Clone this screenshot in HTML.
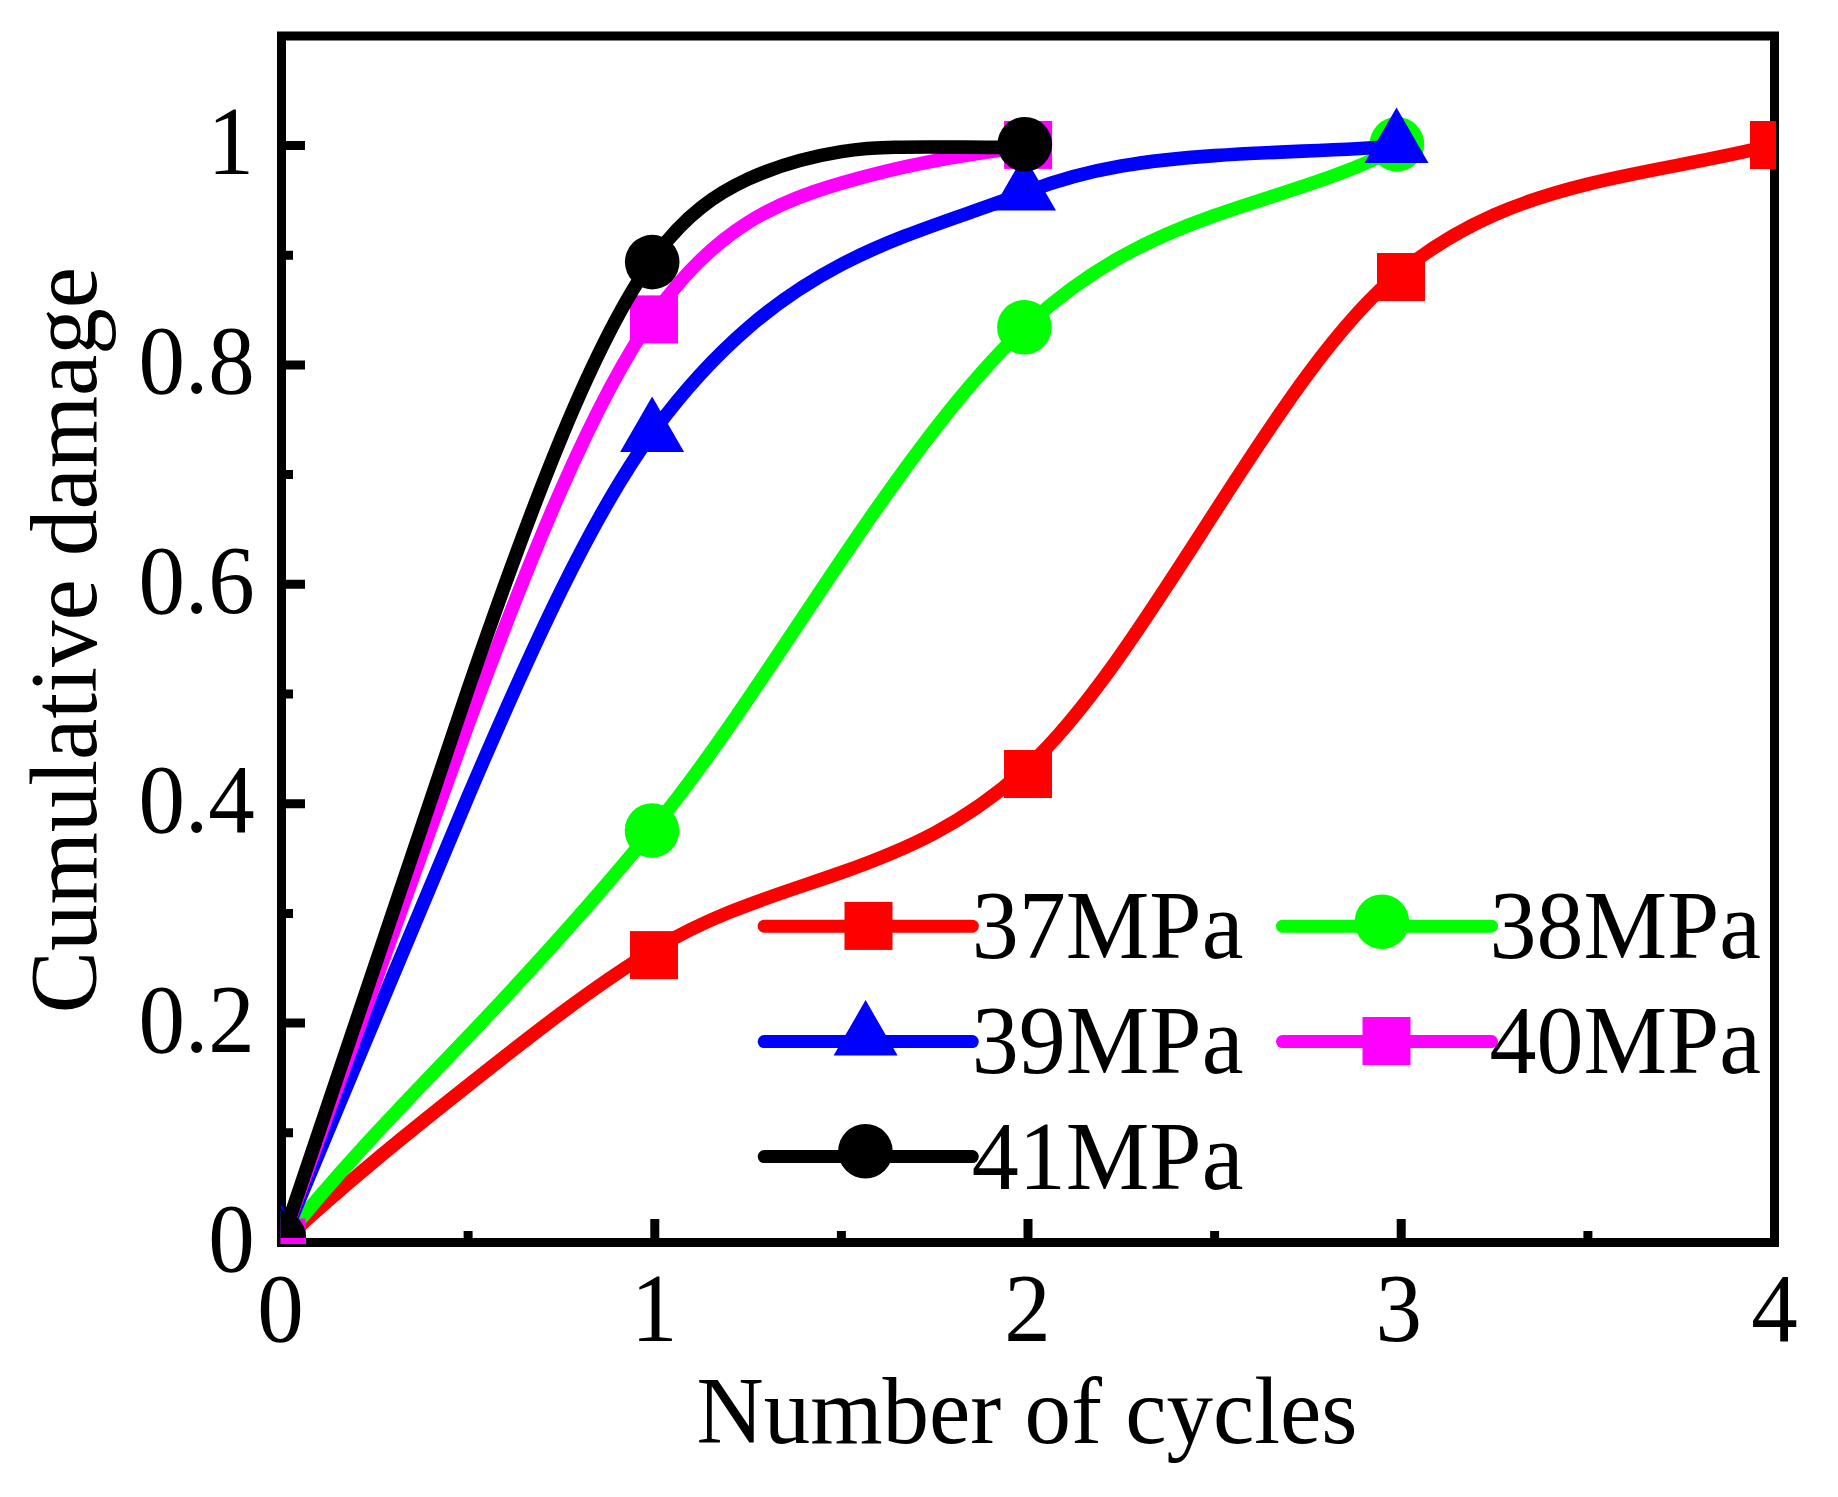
<!DOCTYPE html><html><head><meta charset="utf-8"><title>Cumulative damage</title><style>html,body{margin:0;padding:0;background:#fff}svg{display:block}text{font-family:"Liberation Serif","Times New Roman",serif;font-size:93px;fill:#000}</style></head><body>
<svg width="1838" height="1497" viewBox="0 0 1838 1497">
<defs><clipPath id="cp"><rect x="280.8" y="31" width="1495.2" height="1213"/></clipPath><clipPath id="cpb"><rect x="280.8" y="31" width="1495.2" height="1207"/></clipPath></defs>
<rect x="0" y="0" width="1838" height="1497" fill="#fff"/>
<rect x="281.5" y="36" width="1493" height="1206.5" fill="none" stroke="#000" stroke-width="9"/>
<path d="M281.5 1242.5H305M281.5 1132.8H293M281.5 1023.1H305M281.5 913.4H293M281.5 803.7H305M281.5 694.0H293M281.5 584.3H305M281.5 474.6H293M281.5 364.9H305M281.5 255.2H293M281.5 145.5H305M281.5 1242.5V1219M468.1 1242.5V1231M654.8 1242.5V1219M841.4 1242.5V1231M1028.0 1242.5V1219M1214.6 1242.5V1231M1401.2 1242.5V1219M1587.9 1242.5V1231M1774.5 1242.5V1219" stroke="#000" stroke-width="9" fill="none"/>
<g clip-path="url(#cp)">
<path d="M281.5 1242.5 C343.7 1184.5 405.9 1134.7 468.1 1085.4 C530.3 1036.0 592.5 987.1 654.8 949.3 C717.0 911.4 779.2 894.4 841.4 872.5 C903.6 850.5 965.8 824.4 1028.0 766.4 C1090.2 708.3 1152.4 609.0 1214.6 512.4 C1276.8 415.7 1339.0 321.0 1401.2 271.3 C1463.5 221.7 1525.7 199.3 1587.9 184.1 C1650.1 168.9 1712.3 160.5 1774.5 144.7" fill="none" stroke="#ff0000" stroke-width="13.6" stroke-linejoin="round" stroke-linecap="round"/>
<rect x="257.5" y="1218.5" width="48.0" height="48.0" fill="#ff0000"/>
<rect x="630.0" y="931.1" width="48.0" height="48.0" fill="#ff0000"/>
<rect x="1004.0" y="750.0" width="48.0" height="48.0" fill="#ff0000"/>
<rect x="1377.0" y="253.0" width="48.0" height="48.0" fill="#ff0000"/>
<rect x="1750.0" y="121.0" width="48.0" height="48.0" fill="#ff0000"/>
<path d="M281.5 1242.5 C343.7 1164.5 405.9 1101.9 468.1 1036.5 C530.3 971.1 592.5 903.2 654.8 826.6 C717.0 750.1 779.2 651.8 841.4 559.8 C903.6 467.7 965.8 382.4 1028.0 324.7 C1090.2 266.9 1152.4 237.4 1214.6 215.5 C1276.8 193.5 1339.0 178.5 1401.2 146.5" fill="none" stroke="#00ff00" stroke-width="13.6" stroke-linejoin="round" stroke-linecap="round"/>
<circle cx="278.8" cy="1237.5" r="27.3" fill="#00ff00"/>
<circle cx="652.0" cy="830.5" r="27.3" fill="#00ff00"/>
<circle cx="1024.4" cy="327.3" r="27.3" fill="#00ff00"/>
<circle cx="1396.9" cy="144.3" r="27.3" fill="#00ff00"/>
<path d="M281.5 1242.5 C343.7 1095.0 405.9 941.9 468.1 796.5 C530.3 651.1 592.5 513.5 654.8 429.7 C717.0 345.8 779.2 296.9 841.4 264.5 C903.6 232.2 965.8 215.6 1028.0 191.5 C1090.2 167.3 1152.4 159.8 1214.6 155.6 C1276.8 151.4 1339.0 150.6 1401.2 146.0" fill="none" stroke="#0000ff" stroke-width="13.6" stroke-linejoin="round" stroke-linecap="round"/>
<polygon points="278.9,1200.1 246.9,1255.5 310.9,1255.5" fill="#0000ff"/>
<polygon points="652.1,396.6 620.1,452.0 684.1,452.0" fill="#0000ff"/>
<polygon points="1024.0,155.2 992.0,210.6 1056.0,210.6" fill="#0000ff"/>
<polygon points="1396.5,107.6 1364.5,163.0 1428.5,163.0" fill="#0000ff"/>
<path d="M281.5 1242.5 C343.7 1073.3 405.9 892.2 468.1 724.3 C530.3 556.4 592.5 401.9 654.8 314.1 C717.0 226.2 779.2 201.2 841.4 183.1 C903.6 164.9 965.8 153.6 1028.0 147.0" fill="none" stroke="#ff00ff" stroke-width="13.6" stroke-linejoin="round" stroke-linecap="round"/>
<rect x="257.5" y="1218.5" width="48.0" height="48.0" fill="#ff00ff"/>
<rect x="630.0" y="295.4" width="48.0" height="48.0" fill="#ff00ff"/>
<rect x="1004.1" y="120.9" width="48.0" height="48.0" fill="#ff00ff"/>
</g>
<g clip-path="url(#cp)">
<path d="M281.5 1242.5 C343.7 1063.0 405.9 869.4 468.1 689.2 C530.3 509.1 592.5 341.9 654.8 256.6 C685.8 214.0 716.9 193.6 747.9 179.2 C779.1 164.8 810.2 156.6 841.4 151.6 C859.2 148.8 877.1 147.5 895.0 147.2 C939.3 146.3 983.7 147.9 1028.0 147.2" fill="none" stroke="#000000" stroke-width="13.6" stroke-linejoin="round" stroke-linecap="round"/>
<circle cx="652.2" cy="262.1" r="27.3" fill="#000000"/>
<circle cx="1024.8" cy="144.3" r="27.3" fill="#000000"/>
</g>
<g clip-path="url(#cpb)"><circle cx="278.8" cy="1237.5" r="27.3" fill="#000"/></g>
<rect x="280.8" y="1238" width="24.5" height="6" fill="#ff00ff"/>
<path d="M764.2 926.2H972.3" stroke="#ff0000" stroke-width="13.0" stroke-linecap="round" fill="none"/>
<rect x="844.5" y="901.9" width="48.0" height="48.0" fill="#ff0000"/>
<path d="M764.2 1041.6H972.3" stroke="#0000ff" stroke-width="13.0" stroke-linecap="round" fill="none"/>
<polygon points="865.6,1000.1 833.6,1055.5 897.6,1055.5" fill="#0000ff"/>
<path d="M764.2 1156.6H972.3" stroke="#000000" stroke-width="13.0" stroke-linecap="round" fill="none"/>
<circle cx="865.4" cy="1151.3" r="27.3" fill="#000000"/>
<path d="M1282.5 926.2H1491.5" stroke="#00ff00" stroke-width="13.0" stroke-linecap="round" fill="none"/>
<circle cx="1381.9" cy="921.8" r="27.3" fill="#00ff00"/>
<path d="M1282.5 1041.6H1491.5" stroke="#ff00ff" stroke-width="13.0" stroke-linecap="round" fill="none"/>
<rect x="1362.5" y="1017.0" width="48.0" height="48.0" fill="#ff00ff"/>
<text transform="translate(971.8,958.4) scale(1,1.030)" text-anchor="start" style="font-size:94px">37MPa</text>
<text transform="translate(971.8,1073.0) scale(1,1.030)" text-anchor="start" style="font-size:94px">39MPa</text>
<text transform="translate(971.8,1189.0) scale(1,1.030)" text-anchor="start" style="font-size:94px">41MPa</text>
<text transform="translate(1489.5,958.4) scale(1,1.030)" text-anchor="start" style="font-size:94px">38MPa</text>
<text transform="translate(1489.5,1073.0) scale(1,1.030)" text-anchor="start" style="font-size:94px">40MPa</text>
<text transform="translate(254.8,1271.0) scale(1,1.045)" text-anchor="end" style="font-size:93px">0</text>
<text transform="translate(254.8,1051.6) scale(1,1.045)" text-anchor="end" style="font-size:93px">0.2</text>
<text transform="translate(254.8,832.2) scale(1,1.045)" text-anchor="end" style="font-size:93px">0.4</text>
<text transform="translate(254.8,612.8) scale(1,1.045)" text-anchor="end" style="font-size:93px">0.6</text>
<text transform="translate(254.8,393.4) scale(1,1.045)" text-anchor="end" style="font-size:93px">0.8</text>
<text transform="translate(254.0,174.0) scale(1,1.045)" text-anchor="end" style="font-size:93px">1</text>
<text transform="translate(280.5,1341.2) scale(1,1.045)" text-anchor="middle" style="font-size:93px">0</text>
<text transform="translate(654.2,1341.2) scale(1,1.045)" text-anchor="middle" style="font-size:93px">1</text>
<text transform="translate(1027.5,1341.2) scale(1,1.045)" text-anchor="middle" style="font-size:93px">2</text>
<text transform="translate(1398.8,1341.2) scale(1,1.045)" text-anchor="middle" style="font-size:93px">3</text>
<text transform="translate(1774.5,1341.2) scale(1,1.045)" text-anchor="middle" style="font-size:93px">4</text>
<text transform="translate(1027.0,1442.6) scale(1,1.020)" text-anchor="middle" style="font-size:93px">Number of cycles</text>
<text transform="translate(95.5,640.0) rotate(-90) scale(1,1.020)" text-anchor="middle" style="font-size:93px">Cumulative damage</text>
</svg></body></html>
